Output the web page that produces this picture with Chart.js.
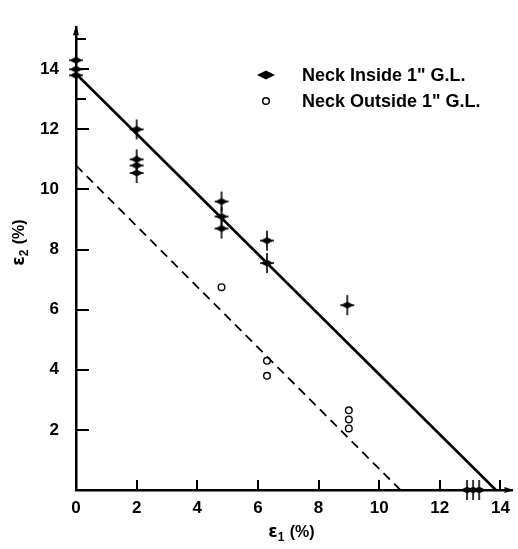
<!DOCTYPE html>
<html>
<head>
<meta charset="utf-8">
<script src="https://cdn.jsdelivr.net/npm/chart.js@4/dist/chart.umd.min.js"></script>
<style>
  html, body { margin: 0; padding: 0; background: #fff; }
  canvas { display: block; }
</style>
</head>
<body>
<canvas id="myChart" width="518" height="549"></canvas>
<script>
// Data
const insideX = [0, 0, 0, 2, 2, 2, 2, 4.8, 4.8, 4.8, 6.3, 6.3, 8.95, 12.9, 13.1, 13.3];
const insideY = [14.3, 14.0, 13.8, 12.0, 11.0, 10.8, 10.55, 9.6, 9.1, 8.7, 8.3, 7.55, 6.15, 0, 0, 0];
const outsideX = [4.8, 6.3, 6.3, 9.0, 9.0, 9.0];
const outsideY = [6.75, 4.3, 3.8, 2.65, 2.35, 2.05];
const insideLineX = [0, 13.85];
const insideLineY = [13.85, 0];
const outsideLineX = [0, 10.7];
const outsideLineY = [10.8, 0];
const xTicks = [0, 2, 4, 6, 8, 10, 12, 14];
const yTicks = [2, 4, 6, 8, 10, 12, 14];
const yMinorTicks = [13, 15];
const legendLabels = ['Neck Inside 1" G.L.', 'Neck Outside 1" G.L.'];
const xTitle = ['ε', '1', ' (%)'];
const yTitle = ['ε', '2', ' (%)'];

const toPoints = (xs, ys) => xs.map((x, i) => ({ x: x, y: ys[i] }));

// Filled diamond with cross hairs, used for "neck inside"
function makeStar() {
  const c = document.createElement('canvas');
  c.width = 20; c.height = 22;
  const g = c.getContext('2d');
  g.fillStyle = '#000';
  g.strokeStyle = '#000';
  g.beginPath();
  g.moveTo(3.5, 11); g.lineTo(10, 7.5); g.lineTo(16.5, 11); g.lineTo(10, 14.5);
  g.closePath();
  g.fill();
  g.lineWidth = 1.6;
  g.beginPath();
  g.moveTo(10, 1); g.lineTo(10, 21);
  g.moveTo(3, 11); g.lineTo(17, 11);
  g.stroke();
  return c;
}
const star = makeStar();

const labelFont = { family: 'Liberation Sans', size: 17, weight: 'bold' };

function drawTitle(ctx, parts, x, y) {
  const big = 'bold 17px "DejaVu Sans"';
  const small = 'bold 12px "Liberation Sans"';
  ctx.font = big;
  const w0 = ctx.measureText(parts[0]).width;
  const w2 = ctx.measureText(parts[2]).width;
  ctx.font = small;
  const w1 = ctx.measureText(parts[1]).width + 1;
  let cx = x - (w0 + w1 + w2) / 2;
  ctx.textAlign = 'left';
  ctx.textBaseline = 'middle';
  ctx.font = big;
  ctx.fillText(parts[0], cx, y);
  cx += w0;
  ctx.font = small;
  ctx.fillText(parts[1], cx, y + 5);
  cx += w1;
  ctx.font = 'bold 16px "Liberation Sans"';
  ctx.fillText(parts[2], cx, y);
}

// Inner ticks, arrows, axis titles and the legend
const decorations = {
  id: 'decorations',
  afterDraw(chart) {
    const ctx = chart.ctx;
    const xs = chart.scales.x;
    const ys = chart.scales.y;
    const area = chart.chartArea;
    ctx.save();
    ctx.strokeStyle = '#000';
    ctx.fillStyle = '#000';
    ctx.lineWidth = 2;
    ctx.beginPath();
    xTicks.forEach((v) => {
      if (v === 0) return;
      const px = Math.round(xs.getPixelForValue(v));
      ctx.moveTo(px, area.bottom);
      ctx.lineTo(px, area.bottom - 10);
    });
    yTicks.forEach((v) => {
      const py = Math.round(ys.getPixelForValue(v));
      ctx.moveTo(area.left, py);
      ctx.lineTo(area.left + 13, py);
    });
    yMinorTicks.forEach((v) => {
      const py = Math.round(ys.getPixelForValue(v));
      ctx.moveTo(area.left, py);
      ctx.lineTo(area.left + 10, py);
    });
    ctx.stroke();

    // arrow heads
    ctx.beginPath();
    ctx.moveTo(area.left, area.top - 2);
    ctx.lineTo(area.left - 3, area.top + 8);
    ctx.lineTo(area.left + 3, area.top + 8);
    ctx.closePath();
    ctx.moveTo(area.right + 1, area.bottom);
    ctx.lineTo(area.right - 8, area.bottom - 3);
    ctx.lineTo(area.right - 8, area.bottom + 3);
    ctx.closePath();
    ctx.fill();

    // axis titles
    drawTitle(ctx, xTitle, 296, 533);
    ctx.save();
    ctx.translate(20, 238);
    ctx.rotate(-Math.PI / 2);
    drawTitle(ctx, yTitle, 0, 0);
    ctx.restore();

    // legend
    const lx = 266;
    const ly = [75, 101];
    ctx.beginPath();
    ctx.moveTo(lx - 9, ly[0]); ctx.lineTo(lx, ly[0] - 4.5);
    ctx.lineTo(lx + 9, ly[0]); ctx.lineTo(lx, ly[0] + 4.5);
    ctx.closePath();
    ctx.fill();
    ctx.lineWidth = 1.5;
    ctx.beginPath();
    ctx.arc(lx, ly[1], 3.3, 0, Math.PI * 2);
    ctx.stroke();
    ctx.font = 'bold 18px "Liberation Sans"';
    ctx.textAlign = 'left';
    ctx.textBaseline = 'middle';
    legendLabels.forEach((t, i) => ctx.fillText(t, 302, ly[i] + 1));
    ctx.restore();
  }
};

const chartConfig = {
  type: 'scatter',
  data: {
    datasets: [
      {
        label: 'inside fit',
        data: toPoints(insideLineX, insideLineY),
        showLine: true,
        borderColor: '#000',
        borderWidth: 2.6,
        pointRadius: 0,
        clip: false
      },
      {
        label: 'outside fit',
        data: toPoints(outsideLineX, outsideLineY),
        showLine: true,
        borderColor: '#000',
        borderWidth: 1.8,
        borderDash: [9, 6],
        pointRadius: 0,
        clip: false
      },
      {
        label: legendLabels[0],
        data: toPoints(insideX, insideY),
        pointStyle: star,
        clip: false
      },
      {
        label: legendLabels[1],
        data: toPoints(outsideX, outsideY),
        pointStyle: 'circle',
        pointRadius: 3.3,
        borderWidth: 1.4,
        borderColor: '#000',
        backgroundColor: '#fff',
        clip: false
      }
    ]
  },
  options: {
    responsive: false,
    animation: false,
    layout: { padding: { left: 0, top: 8, right: 2, bottom: 0 } },
    plugins: {
      legend: { display: false },
      tooltip: { enabled: false }
    },
    scales: {
      x: {
        type: 'linear',
        min: 0,
        max: 14.4,
        afterBuildTicks: (scale) => { scale.ticks = xTicks.map((v) => ({ value: v })); },
        afterFit: (scale) => { scale.height = 59; },
        grid: { display: false, drawTicks: false },
        border: { display: true, color: '#000', width: 2.5 },
        ticks: { color: '#000', font: labelFont, padding: 8, maxRotation: 0 }
      },
      y: {
        type: 'linear',
        min: 0,
        max: 15.4,
        afterBuildTicks: (scale) => { scale.ticks = yTicks.map((v) => ({ value: v })); },
        afterFit: (scale) => { scale.width = 76; },
        grid: { display: false, drawTicks: false },
        border: { display: true, color: '#000', width: 2.5 },
        ticks: { color: '#000', font: labelFont, padding: 17 }
      }
    }
  },
  plugins: [decorations]
};

const myChart = new Chart(document.getElementById('myChart'), chartConfig);
</script>
</body>
</html>
